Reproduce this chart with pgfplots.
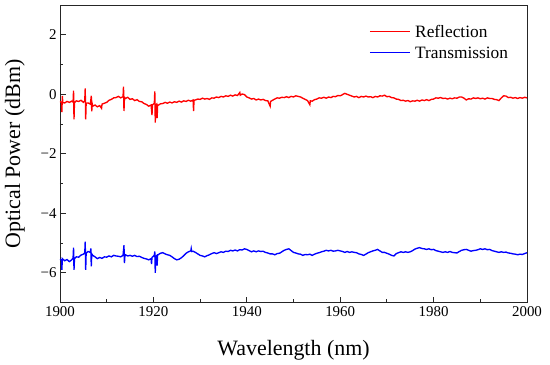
\documentclass[border=0pt]{standalone}
\usepackage{fontspec}
\setmainfont{Liberation Serif}
\usepackage{pgfplots}
\pgfplotsset{compat=1.18}
\begin{document}
\begin{tikzpicture}
\useasboundingbox (-60bp,-62.3bp) rectangle (490bp,302.7bp);
\begin{axis}[
  at={(0,0)}, anchor=south west,
  scale only axis, width=467bp, height=297.7bp,
  xmin=1900, xmax=2000, ymin=-7, ymax=3,
  xtick={1900,1920,1940,1960,1980,2000},
  xticklabels={1900,1920,1940,1960,1980,2000},
  ytick={-6,-4,-2,0,2},
  yticklabels={−6,−4,−2,0,2},
  minor x tick num=1, minor y tick num=1,
  tick align=inside, xtick pos=bottom, ytick pos=left,
  major tick length=6bp, minor tick length=3.5bp,
  axis line style={line width=1pt, black!85},
  every tick/.style={line width=0.9pt, black!85},
  ticklabel style={font=\fontsize{15}{15}\selectfont},
  label style={font=\fontsize{22}{22}\selectfont},
  xlabel={Wavelength (nm)},
  ylabel={Optical Power (dBm)},
  xlabel style={at={(axis description cs:0.5,-0.1757)}, anchor=base},
  ylabel style={at={(axis description cs:-0.0964,0.5)}, anchor=center},
]
\addplot[red, line width=1.35pt] coordinates {
(1900.0,-0.24)(1900.3,-0.27)(1900.4,-0.60)(1900.5,-0.05)(1900.6,-0.28)(1901.0,-0.29)(1901.5,-0.24)(1902.0,-0.27)(1902.5,-0.23)(1902.8,-0.26)(1902.9,0.12)(1903.0,-0.84)(1903.1,-0.28)(1903.5,-0.22)(1904.0,-0.24)(1904.5,-0.20)(1905.0,-0.27)(1905.3,-0.22)(1905.4,0.20)(1905.5,-0.84)(1905.6,-0.30)(1906.0,-0.29)(1906.5,-0.33)(1906.7,-0.05)(1906.8,-0.57)(1906.9,-0.32)(1907.0,-0.40)(1907.5,-0.36)(1908.0,-0.42)(1908.5,-0.38)(1908.9,-0.47)(1909.0,-0.33)(1909.5,-0.30)(1910.0,-0.27)(1910.5,-0.20)(1911.0,-0.17)(1911.5,-0.12)(1912.0,-0.11)(1912.5,-0.07)(1913.0,-0.12)(1913.5,-0.08)(1913.6,0.26)(1913.7,-0.56)(1913.8,-0.10)(1914.0,-0.14)(1914.5,-0.10)(1915.0,-0.17)(1915.5,-0.15)(1916.0,-0.21)(1916.5,-0.18)(1917.0,-0.24)(1917.5,-0.25)(1918.0,-0.31)(1918.5,-0.34)(1919.0,-0.40)(1919.5,-0.36)(1919.7,-0.70)(1919.8,-0.35)(1920.0,-0.33)(1920.2,-0.30)(1920.3,0.10)(1920.4,-0.95)(1920.5,-0.36)(1920.7,-0.33)(1920.8,-0.80)(1920.9,-0.36)(1921.0,-0.37)(1921.5,-0.32)(1922.0,-0.31)(1922.5,-0.27)(1923.0,-0.30)(1923.5,-0.26)(1924.0,-0.29)(1924.5,-0.25)(1925.0,-0.27)(1925.5,-0.23)(1926.0,-0.26)(1926.5,-0.22)(1927.0,-0.24)(1927.5,-0.20)(1928.0,-0.23)(1928.5,-0.19)(1928.6,-0.56)(1928.7,-0.20)(1929.0,-0.19)(1929.5,-0.16)(1930.0,-0.17)(1930.5,-0.13)(1931.0,-0.16)(1931.5,-0.14)(1932.0,-0.17)(1932.5,-0.12)(1933.0,-0.13)(1933.5,-0.09)(1934.0,-0.11)(1934.5,-0.07)(1935.0,-0.09)(1935.5,-0.05)(1936.0,-0.07)(1936.5,-0.03)(1937.0,-0.06)(1937.5,-0.02)(1938.0,-0.04)(1938.5,0.06)(1938.6,-0.03)(1939.0,0.01)(1939.5,-0.01)(1940.0,-0.09)(1940.5,-0.12)(1941.0,-0.16)(1941.5,-0.14)(1942.0,-0.19)(1942.5,-0.16)(1943.0,-0.19)(1943.5,-0.17)(1944.0,-0.21)(1944.5,-0.22)(1945.0,-0.40)(1945.1,-0.24)(1945.5,-0.20)(1946.0,-0.16)(1946.5,-0.12)(1947.0,-0.13)(1947.5,-0.10)(1948.0,-0.11)(1948.5,-0.08)(1949.0,-0.11)(1949.5,-0.07)(1950.0,-0.09)(1950.5,-0.05)(1951.0,-0.07)(1951.5,-0.09)(1952.0,-0.13)(1952.5,-0.17)(1953.0,-0.21)(1953.5,-0.35)(1953.6,-0.22)(1954.0,-0.23)(1954.5,-0.18)(1955.0,-0.16)(1955.5,-0.12)(1956.0,-0.13)(1956.5,-0.10)(1957.0,-0.13)(1957.5,-0.09)(1958.0,-0.11)(1958.5,-0.07)(1959.0,-0.08)(1959.5,-0.04)(1960.0,-0.05)(1960.5,-0.01)(1961.0,0.03)(1961.5,0.00)(1962.0,-0.03)(1962.5,-0.06)(1963.0,-0.09)(1963.5,-0.07)(1964.0,-0.11)(1964.5,-0.07)(1965.0,-0.09)(1965.5,-0.06)(1966.0,-0.09)(1966.5,-0.08)(1967.0,-0.11)(1967.5,-0.07)(1968.0,-0.09)(1968.5,-0.05)(1969.0,-0.06)(1969.5,-0.03)(1970.0,-0.08)(1970.5,-0.07)(1971.0,-0.11)(1971.5,-0.12)(1972.0,-0.16)(1972.5,-0.17)(1973.0,-0.21)(1973.5,-0.20)(1974.0,-0.23)(1974.5,-0.21)(1975.0,-0.25)(1975.5,-0.22)(1976.0,-0.23)(1976.5,-0.20)(1977.0,-0.23)(1977.5,-0.19)(1978.0,-0.21)(1978.5,-0.18)(1979.0,-0.21)(1979.5,-0.17)(1980.0,-0.16)(1980.5,-0.12)(1981.0,-0.13)(1981.5,-0.11)(1982.0,-0.14)(1982.5,-0.13)(1983.0,-0.16)(1983.5,-0.13)(1984.0,-0.15)(1984.5,-0.12)(1985.0,-0.13)(1985.5,-0.09)(1986.0,-0.09)(1986.5,-0.13)(1987.0,-0.19)(1987.5,-0.15)(1988.0,-0.16)(1988.5,-0.12)(1989.0,-0.14)(1989.5,-0.12)(1990.0,-0.15)(1990.5,-0.13)(1991.0,-0.16)(1991.5,-0.12)(1992.0,-0.14)(1992.5,-0.14)(1993.0,-0.17)(1993.5,-0.18)(1994.0,-0.21)(1994.5,-0.12)(1995.0,-0.05)(1995.5,-0.06)(1996.0,-0.11)(1996.5,-0.10)(1997.0,-0.13)(1997.5,-0.11)(1998.0,-0.14)(1998.5,-0.11)(1999.0,-0.13)(1999.5,-0.10)(2000.0,-0.12)
};
\addplot[blue, line width=1.35pt] coordinates {
(1900.0,-5.54)(1900.3,-5.57)(1900.4,-5.90)(1900.5,-5.52)(1901.0,-5.59)(1901.5,-5.55)(1902.0,-5.62)(1902.5,-5.56)(1902.8,-5.50)(1902.9,-5.15)(1903.0,-5.90)(1903.1,-5.52)(1903.5,-5.46)(1904.0,-5.47)(1904.5,-5.40)(1905.0,-5.37)(1905.3,-5.33)(1905.4,-4.95)(1905.5,-5.90)(1905.6,-5.34)(1906.0,-5.28)(1906.5,-5.31)(1906.6,-5.18)(1906.7,-5.78)(1906.8,-5.36)(1907.0,-5.41)(1907.5,-5.46)(1908.0,-5.52)(1908.5,-5.48)(1909.0,-5.51)(1909.5,-5.46)(1910.0,-5.47)(1910.5,-5.43)(1911.0,-5.46)(1911.5,-5.41)(1912.0,-5.43)(1912.5,-5.44)(1913.0,-5.46)(1913.5,-5.41)(1913.7,-5.07)(1913.8,-5.67)(1913.9,-5.42)(1914.0,-5.39)(1914.5,-5.43)(1915.0,-5.41)(1915.5,-5.44)(1916.0,-5.41)(1916.5,-5.45)(1917.0,-5.44)(1917.5,-5.48)(1918.0,-5.51)(1918.5,-5.53)(1919.0,-5.56)(1919.5,-5.52)(1919.6,-5.70)(1919.7,-5.48)(1920.0,-5.44)(1920.2,-5.40)(1920.3,-5.28)(1920.4,-6.00)(1920.5,-5.45)(1920.7,-5.42)(1920.8,-5.75)(1920.9,-5.40)(1921.0,-5.39)(1921.5,-5.34)(1922.0,-5.32)(1922.5,-5.36)(1923.0,-5.39)(1923.5,-5.41)(1924.0,-5.46)(1924.5,-5.52)(1925.0,-5.56)(1925.5,-5.54)(1926.0,-5.49)(1926.5,-5.42)(1927.0,-5.34)(1927.5,-5.29)(1928.0,-5.26)(1928.1,-5.18)(1928.2,-5.28)(1928.5,-5.27)(1929.0,-5.31)(1929.5,-5.36)(1930.0,-5.41)(1930.5,-5.43)(1931.0,-5.46)(1931.5,-5.42)(1932.0,-5.39)(1932.5,-5.35)(1933.0,-5.32)(1933.5,-5.35)(1934.0,-5.32)(1934.5,-5.29)(1935.0,-5.31)(1935.5,-5.27)(1936.0,-5.28)(1936.5,-5.24)(1937.0,-5.26)(1937.5,-5.23)(1938.0,-5.26)(1938.5,-5.22)(1939.0,-5.23)(1939.5,-5.19)(1940.0,-5.21)(1940.5,-5.25)(1941.0,-5.29)(1941.5,-5.26)(1942.0,-5.29)(1942.5,-5.26)(1943.0,-5.28)(1943.5,-5.27)(1944.0,-5.31)(1944.5,-5.33)(1945.0,-5.36)(1945.5,-5.36)(1946.0,-5.39)(1946.5,-5.35)(1947.0,-5.34)(1947.5,-5.29)(1948.0,-5.24)(1948.5,-5.21)(1949.0,-5.19)(1949.5,-5.25)(1950.0,-5.31)(1950.5,-5.33)(1951.0,-5.36)(1951.5,-5.37)(1952.0,-5.41)(1952.5,-5.38)(1953.0,-5.39)(1953.5,-5.37)(1954.0,-5.41)(1954.5,-5.37)(1955.0,-5.34)(1955.5,-5.32)(1956.0,-5.29)(1956.5,-5.27)(1957.0,-5.24)(1957.5,-5.26)(1958.0,-5.24)(1958.5,-5.27)(1959.0,-5.26)(1959.5,-5.24)(1960.0,-5.26)(1960.5,-5.28)(1961.0,-5.31)(1961.5,-5.28)(1962.0,-5.31)(1962.5,-5.29)(1963.0,-5.31)(1963.5,-5.32)(1964.0,-5.36)(1964.5,-5.38)(1965.0,-5.41)(1965.5,-5.37)(1966.0,-5.32)(1966.5,-5.29)(1967.0,-5.26)(1967.5,-5.24)(1968.0,-5.21)(1968.5,-5.26)(1969.0,-5.31)(1969.5,-5.31)(1970.0,-5.34)(1970.5,-5.37)(1971.0,-5.41)(1971.5,-5.43)(1972.0,-5.35)(1972.5,-5.32)(1973.0,-5.29)(1973.5,-5.31)(1974.0,-5.29)(1974.5,-5.31)(1975.0,-5.29)(1975.5,-5.25)(1976.0,-5.20)(1976.5,-5.17)(1977.0,-5.15)(1977.5,-5.18)(1978.0,-5.19)(1978.5,-5.21)(1979.0,-5.19)(1979.5,-5.22)(1980.0,-5.21)(1980.5,-5.25)(1981.0,-5.27)(1981.5,-5.29)(1982.0,-5.31)(1982.5,-5.29)(1983.0,-5.31)(1983.5,-5.28)(1984.0,-5.31)(1984.5,-5.32)(1985.0,-5.33)(1985.5,-5.28)(1986.0,-5.24)(1986.5,-5.22)(1987.0,-5.21)(1987.5,-5.24)(1988.0,-5.27)(1988.5,-5.25)(1989.0,-5.24)(1989.5,-5.22)(1990.0,-5.19)(1990.5,-5.21)(1991.0,-5.19)(1991.5,-5.22)(1992.0,-5.21)(1992.5,-5.25)(1993.0,-5.27)(1993.5,-5.29)(1994.0,-5.31)(1994.5,-5.29)(1995.0,-5.31)(1995.5,-5.30)(1996.0,-5.33)(1996.5,-5.34)(1997.0,-5.36)(1997.5,-5.37)(1998.0,-5.39)(1998.5,-5.37)(1999.0,-5.38)(1999.5,-5.35)(2000.0,-5.32)
};
\draw[red, line width=1pt] (axis description cs:0.6638,0.9103) -- (axis description cs:0.7495,0.9103);
\node[anchor=base west, inner sep=0pt, font=\fontsize{17.4}{17.4}\selectfont] at (axis description cs:0.7602,0.8915) {Reflection};
\draw[blue, line width=1pt] (axis description cs:0.6638,0.8412) -- (axis description cs:0.7495,0.8412);
\node[anchor=base west, inner sep=0pt, font=\fontsize{17.4}{17.4}\selectfont] at (axis description cs:0.7602,0.821) {Transmission};
\end{axis}
\end{tikzpicture}
\end{document}
